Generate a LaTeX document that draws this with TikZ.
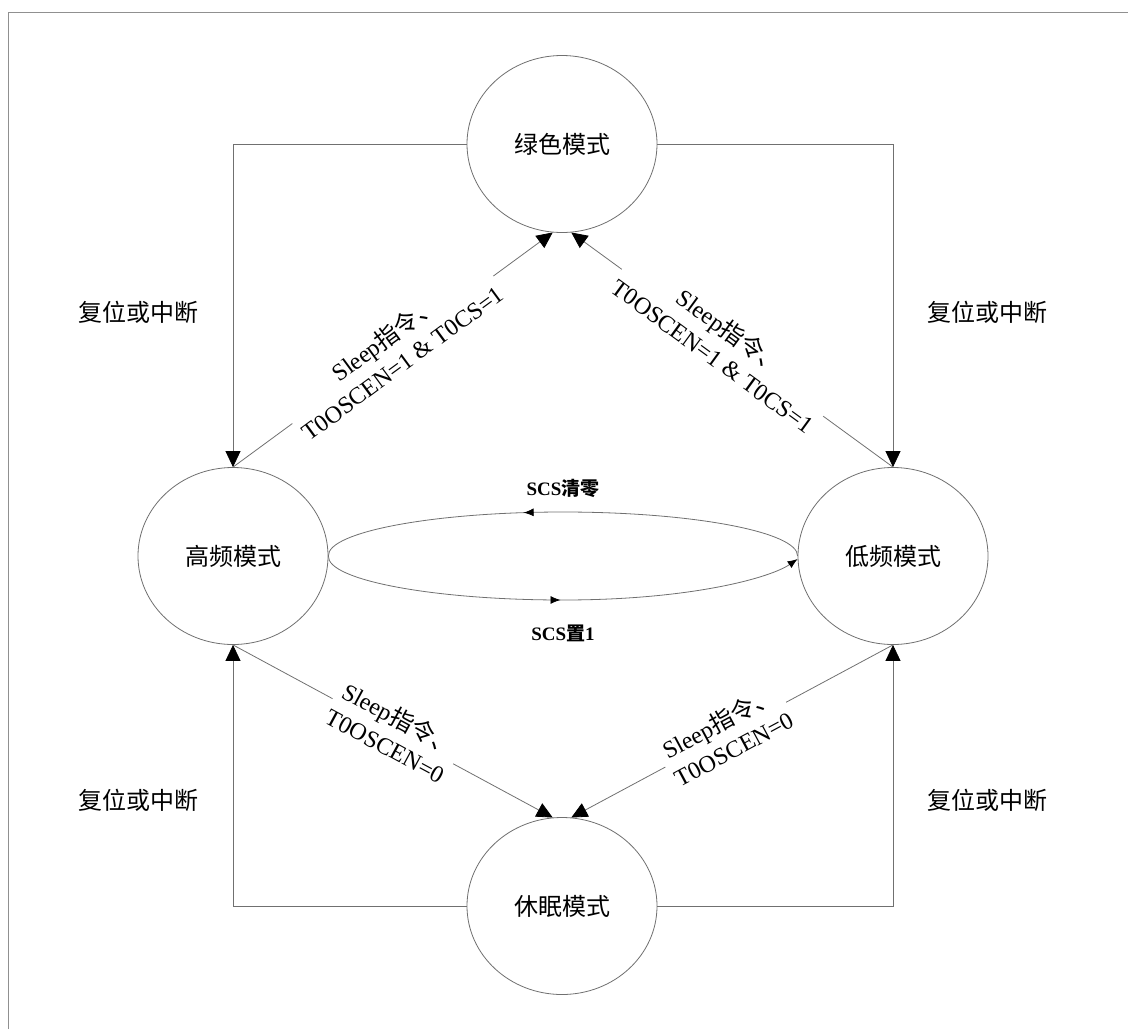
\documentclass[tikz,border=0pt]{standalone}
\usepackage{fontspec}
\setmainfont{Liberation Serif}
\newfontfamily\cjk{Noto Sans CJK SC}
\usetikzlibrary{arrows.meta,decorations.markings,shapes.geometric}
\definecolor{linegray}{HTML}{707070}
\definecolor{framegray}{HTML}{909090}
\tikzset{
  state/.style={draw=linegray, line width=0.8pt, ellipse, minimum width=190pt, minimum height=177pt, inner sep=0pt, font=\fontsize{24}{28}\selectfont\cjk},
  conn/.style={draw=linegray, line width=0.8pt},
  bigtip/.style={-{Triangle[length=16pt,width=15pt,color=black]}},
  lbl/.style={fill=white, inner sep=3pt, align=center, font=\fontsize{24}{30}\selectfont},
  side/.style={font=\fontsize{24}{28}\selectfont\cjk},
  scs/.style={font=\fontsize{19}{22}\selectfont\bfseries},
  smalltip/.style={decoration={markings, mark=at position #1 with {\arrow[black]{Latex[length=10pt,width=8pt]}}}, postaction={decorate}}
}
\begin{document}
\begin{tikzpicture}[x=1pt,y=-1pt]
\useasboundingbox (0,0) rectangle (1128,1029);
\draw[framegray, line width=1pt] (8,1029) -- (8,12) -- (1128,12);

\node[state] (g) at (562,144) {绿色模式};
\node[state] (h) at (233,556) {高频模式};
\node[state] (l) at (893,556) {低频模式};
\node[state] (s) at (562,906) {休眠模式};

% outer reset/interrupt paths
\draw[conn,bigtip] (g.west) -| (h.north);
\draw[conn,bigtip] (g.east) -| (l.north);
\draw[conn,bigtip] (s.west) -| (h.south);
\draw[conn,bigtip] (s.east) -| (l.south);

\node[side] (r1) at (138,312) {复位或中断};
\node[side] (r2) at (987,312) {复位或中断};
\node[side] (r3) at (138,800) {复位或中断};
\node[side] (r4) at (987,800) {复位或中断};

% diagonal transitions
\draw[conn,bigtip] (h.north) -- node[lbl,sloped] {Sleep{\cjk 指令、}\\T0OSCEN=1 \& T0CS=1} (g.264);
\draw[conn,bigtip] (l.north) -- node[lbl,sloped,pos=0.53] {Sleep{\cjk 指令、}\\T0OSCEN=1 \& T0CS=1} (g.276);
\draw[conn,bigtip] (h.south) -- node[lbl,sloped] {Sleep{\cjk 指令、}\\T0OSCEN=0} (s.96);
\draw[conn,bigtip] (l.south) -- node[lbl,sloped,pos=0.52] {Sleep{\cjk 指令、}\\T0OSCEN=0} (s.84);

% SCS loop
\draw[conn,smalltip=0.58] (l.west) .. controls (798,532) and (693,512) .. (563,512)
   .. controls (433,512) and (327,532) .. (h.east);
\draw[conn,smalltip=0.5,-{Latex[length=10pt,width=8pt,color=black]}] (h.east) .. controls (327,580) and (433,600) .. (563,600)
   .. controls (690,600) and (770,578) .. ([yshift=-3pt]l.west);

\node[scs] (c0) at (563,488) {SCS{\cjk 清零}};
\node[scs] (c1) at (563,633) {SCS{\cjk 置}1};
\end{tikzpicture}
\end{document}
